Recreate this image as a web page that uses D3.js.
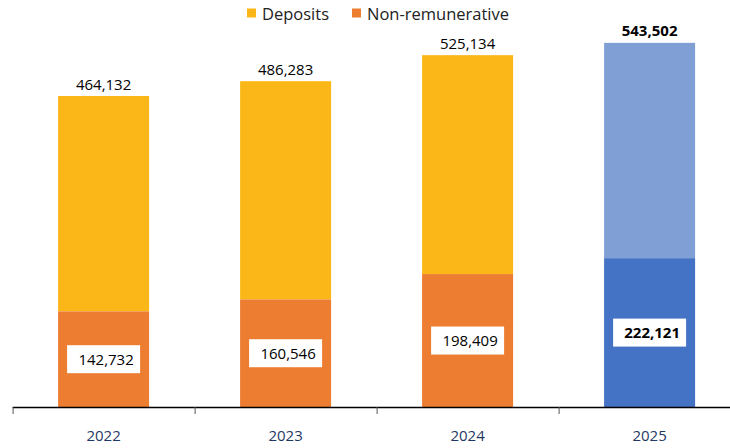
<!DOCTYPE html>
<html>
<head>
<meta charset="utf-8">
<script src="https://cdn.jsdelivr.net/npm/d3@7"></script>
<style>
  html, body { margin: 0; padding: 0; background: #fff; }
  svg { display: block; font-family: "Open Sans", "Noto Sans", sans-serif; }
</style>
</head>
<body>
<svg id="chart" width="730" height="448"></svg>
<script>
// Yearly balances: total and its non-remunerative part
const years = ["2022", "2023", "2024", "2025"];
const totals = [464132, 486283, 525134, 543502];
const nonRemunerative = [142732, 160546, 198409, 222121];
const legendLabels = ["Deposits", "Non-remunerative"];

const svg = d3.select("#chart");
const baseY = 407;

const x = d3.scaleBand()
  .domain(years)
  .range([12.6, 740.6])
  .paddingInner(0.5)
  .paddingOuter(0.25);

const y = d3.scaleLinear()
  .domain([0, 600000])
  .range([baseY, 5]);

const colors = {
  deposits: "#FBB717",
  nonrem: "#ED7D31",
  depositsHi: "#7F9FD5",
  nonremHi: "#4472C4"
};
const isHi = (i) => i === years.length - 1;
const fmt = d3.format(",");

// Upper segment (total minus non-remunerative)
svg.append("g").selectAll("rect")
  .data(years)
  .join("rect")
  .attr("x", d => x(d))
  .attr("width", x.bandwidth())
  .attr("y", (d, i) => y(totals[i]))
  .attr("height", (d, i) => y(nonRemunerative[i]) - y(totals[i]))
  .attr("fill", (d, i) => isHi(i) ? colors.depositsHi : colors.deposits);

// Lower segment (non-remunerative)
svg.append("g").selectAll("rect")
  .data(years)
  .join("rect")
  .attr("x", d => x(d))
  .attr("width", x.bandwidth())
  .attr("y", (d, i) => y(nonRemunerative[i]))
  .attr("height", (d, i) => y(0) - y(nonRemunerative[i]))
  .attr("fill", (d, i) => isHi(i) ? colors.nonremHi : colors.nonrem);

// X axis with tick marks between the categories
const axisG = svg.append("g");
axisG.append("line")
  .attr("x1", x.range()[0]).attr("x2", 730)
  .attr("y1", baseY + 0.5).attr("y2", baseY + 0.5)
  .attr("stroke", "#000").attr("stroke-width", 1.3);
const step = x.step();
axisG.selectAll("line.tick")
  .data(d3.range(years.length))
  .join("line")
  .attr("class", "tick")
  .attr("x1", i => x.range()[0] + i * step + 0.5)
  .attr("x2", i => x.range()[0] + i * step + 0.5)
  .attr("y1", baseY).attr("y2", baseY + 7)
  .attr("stroke", "#555").attr("stroke-width", 1);
axisG.selectAll("text")
  .data(years)
  .join("text")
  .attr("x", d => x(d) + x.bandwidth() / 2)
  .attr("y", 441)
  .attr("text-anchor", "middle")
  .attr("font-size", 15)
  .attr("fill", "#1F3864")
  .text(d => d);

// Total labels above bars
svg.append("g").selectAll("text")
  .data(years)
  .join("text")
  .attr("x", d => x(d) + x.bandwidth() / 2)
  .attr("y", (d, i) => y(totals[i]) - 6.5)
  .attr("text-anchor", "middle")
  .attr("font-size", 15)
  .attr("font-weight", (d, i) => isHi(i) ? "bold" : "normal")
  .attr("fill", "#000")
  .text((d, i) => fmt(totals[i]));

// Non-remunerative labels in white boxes
const boxW = 73, boxH = 28;
const lbl = svg.append("g").selectAll("g")
  .data(years)
  .join("g")
  .attr("transform", (d, i) => {
    const cx = x(d) + x.bandwidth() / 2;
    const cy = (y(nonRemunerative[i]) + y(0)) / 2;
    return `translate(${cx},${cy})`;
  });
lbl.append("rect")
  .attr("x", -boxW / 2).attr("y", -boxH / 2)
  .attr("width", boxW).attr("height", boxH)
  .attr("fill", "#fff");
lbl.append("text")
  .attr("x", 2.5)
  .attr("y", 5.5)
  .attr("text-anchor", "middle")
  .attr("font-size", 15)
  .attr("font-weight", (d, i) => isHi(i) ? "bold" : "normal")
  .attr("fill", "#000")
  .text((d, i) => fmt(nonRemunerative[i]));

// Legend
const legend = svg.append("g");
const legendPos = [247, 352];
const legendColors = [colors.deposits, colors.nonrem];
legendLabels.forEach((t, i) => {
  legend.append("rect")
    .attr("x", legendPos[i]).attr("y", 8.5)
    .attr("width", 9).attr("height", 9)
    .attr("fill", legendColors[i]);
  legend.append("text")
    .attr("x", legendPos[i] + 15).attr("y", 20)
    .attr("font-size", 16.5)
    .attr("fill", "#222")
    .text(t);
});
</script>
</body>
</html>
